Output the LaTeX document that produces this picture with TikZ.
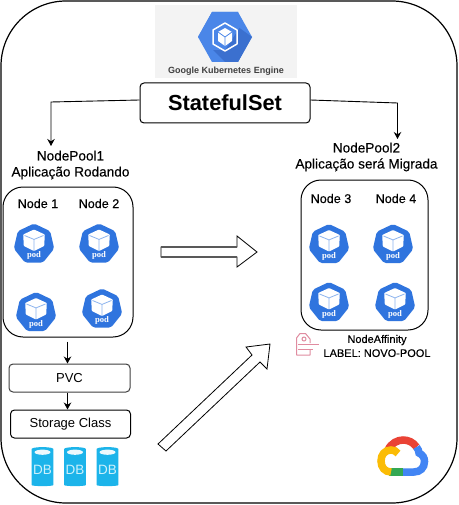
\documentclass[tikz,border=0pt]{standalone}
\usepackage{fontspec}
\setmainfont{Liberation Sans}
\newfontfamily\podfont{Liberation Serif}
\newfontfamily\medfont[FakeBold=0.25]{Liberation Sans}
\usetikzlibrary{arrows.meta,calc}
\definecolor{podblue}{HTML}{2F74DE}
\definecolor{podline}{HTML}{8DB4EE}
\definecolor{gkeblue}{HTML}{4A86E8}
\definecolor{gkedark}{HTML}{3B70CF}
\definecolor{gkebg}{HTML}{F3F3F3}
\definecolor{dbblue}{HTML}{1CB4EA}
\definecolor{dbtext}{HTML}{CDF1FC}
\definecolor{tagpink}{HTML}{E08CA0}
\definecolor{gred}{HTML}{EA4335}
\definecolor{gblue}{HTML}{4285F4}
\definecolor{ggreen}{HTML}{34A853}
\definecolor{gyellow}{HTML}{FBBC05}
\tikzset{
  x=1pt,y=-1pt,
  outer/.style={draw=black,line width=1.2pt,rounded corners=65pt},
  poolbox/.style={draw=black,line width=1pt,rounded corners=20pt,inner sep=0pt},
  stepbox/.style={draw=black,line width=1pt,rounded corners=4pt,fill=white,inner sep=0pt,text=black},
  pooltext/.style={font=\medfont\fontsize{13.6}{16}\selectfont,align=center,inner sep=0pt},
  nodetext/.style={font=\medfont\fontsize{12.6}{15}\selectfont,inner sep=0pt},
  flow/.style={draw=black,line width=.9pt,-{Stealth[length=7pt,width=7.5pt]}},
  bigarrow/.style={draw=black,line width=.8pt,fill=white,line join=miter},
  podtext/.style={font=\podfont\bfseries\fontsize{8.6}{9}\selectfont,text=white,inner sep=0pt},
  dbtext/.style={font=\fontsize{13.5}{13.5}\selectfont,text=dbtext,inner sep=0pt},
  tagline/.style={draw=tagpink,line width=1pt},
  cloudseg/.style={line width=7.5pt,line cap=butt},
}
\newcommand{\podicon}[3]{%
  \begin{scope}[shift={(#1,#2)}]
    \fill[podblue,rounded corners=2pt] (0,-20.5)--(16.2,-12.8)--(20.2,4.6)--(9,18.6)--(-9,18.6)--(-20.2,4.6)--(-16.2,-12.8)--cycle;
    \fill[white,rounded corners=.8pt] (0,-14.5)--(10.8,-9.5)--(10.2,2)--(0,7)--(-10.2,2)--(-10.8,-9.5)--cycle;
    \draw[podline,line width=.8pt] (-9.5,-8.5)--(0,-4.6)--(9.5,-8.5) (0,-4.6)--(0,6.3);
    \node[podtext] (#3) at (0,11.5) {pod};
  \end{scope}}
\newcommand{\dbicon}[3]{%
  \begin{scope}[shift={(#1,#2)}]
    \fill[dbblue,rounded corners=3pt] (-10.8,4)--(-10.8,34) .. controls (-10.8,38.5) and (10.8,38.5) .. (10.8,34)--(10.8,4)
       .. controls (10.8,-1.5) and (-10.8,-1.5) .. (-10.8,4)--cycle;
    \fill[white!92!dbblue] (0,4.2) ellipse (8pt and 2.6pt);
    \node[dbtext] (#3) at (0,21.5) {DB};
  \end{scope}}
\begin{document}
\begin{tikzpicture}
\useasboundingbox (0,0) rectangle (458,505);
\fill[white] (0,0) rectangle (458,505);
\draw[outer] (1,1) rectangle (457,503);

% GKE logo
\fill[gkebg] (155,5) rectangle (297,78);
\fill[gkeblue] (198,37)--(212,12)--(238,12)--(252,37)--(238,62)--(212,62)--cycle;
\fill[gkedark] (234,24)--(252,37)--(238,62)--(225,62)--(212,49)--cycle;
\fill[gkeblue] (198,37)--(212,12)--(238,12)--(240,27)--(225,50)--(212,50)--cycle;
\draw[white,line width=1.5pt,line join=round] (225,23)--(237,30)--(237,44)--(225,51)--(213,44)--(213,30)--cycle;
\fill[white] (225,28)--(232,32)--(232,41)--(225,46)--(218,41)--(218,32)--cycle;
\draw[gkeblue,line width=.8pt] (218,32)--(225,37)--(232,32) (225,37)--(225,46);
\node[font=\bfseries\fontsize{9}{10}\selectfont,text=black!75,inner sep=0pt] (gketxt) at (226,71.5) {Google Kubernetes Engine};

% StatefulSet
\node[stepbox,minimum width=170pt,minimum height=40pt,font=\bfseries\fontsize{21.8}{24}\selectfont] (sts) at (225,103) {StatefulSet};

% Pool labels
\node[pooltext] (np1) at (70.5,165) {NodePool1\\Aplicação Rodando};
\node[pooltext] (np2) at (366.5,157) {NodePool2\\Aplicação será Migrada};
\coordinate (c1) at (51,146);
\coordinate (c2) at (397.5,139);
\draw[flow] ($(sts.west)+(0,-3)$) -- (51,102) -- (c1);
\draw[flow] ($(sts.east)+(0,-3)$) -- (397.5,103) -- (c2);

% Pools
\node[poolbox,minimum width=130pt,minimum height=150pt] (pool1) at (68,262) {};
\node[poolbox,minimum width=127pt,minimum height=150pt] (pool2) at (364.5,255) {};
\node[nodetext] (n1) at (38,203.5) {Node 1};
\node[nodetext] (n2) at (99,203.5) {Node 2};
\node[nodetext] (n3) at (331,198.5) {Node 3};
\node[nodetext] (n4) at (396,198.5) {Node 4};

\podicon{34}{244}{p1}
\podicon{99}{244}{p2}
\podicon{36}{312.5}{p3}
\podicon{102}{309}{p4}
\podicon{329}{244.5}{p5}
\podicon{393}{244.5}{p6}
\podicon{329}{302.5}{p7}
\podicon{395}{302.5}{p8}

% Storage
\node[stepbox,draw=black!75,minimum width=121pt,minimum height=28pt,font=\fontsize{13}{14}\selectfont] (pvc) at (69.5,378) {\raisebox{-1pt}{PVC}};
\node[stepbox,minimum width=120pt,minimum height=28pt,font=\fontsize{13}{14}\selectfont] (sc) at (70.5,424) {\raisebox{-1.5pt}{Storage Class}};
\draw[flow,shorten <=4pt] (pool1.south -| 67.5,0) -- (pvc.north -| 67.5,0);
\draw[flow] (pvc.south -| 67.5,0) -- (sc.north -| 67.5,0);
\dbicon{42.5}{448}{db1}
\dbicon{75}{448}{db2}
\dbicon{107.5}{448}{db3}

% Big arrows
\draw[bigarrow] (161,247)--(237,247)--(237,236)--(257,252)--(237,267)--(237,257)--(161,257)--cycle;
\draw[black!65,line width=1.5pt] (161,247)--(237,247) (161,257)--(237,257);
\draw[bigarrow] (158,444)--(252,355)--(246,347)--(270,344)--(267,369)--(260,362)--(166,451)--cycle;

% Tag and affinity
\draw[tagline,line join=round] (310,343)--(310,339)--(305.5,333.5)--(300,333.5)--(296.5,338)--(296.5,355)--(310,355)--(310,349);
\draw[tagline] (304,339) circle (2pt);
\draw[tagline] (298,344.5)--(318.5,344.5) (298,349.5)--(313,349.5);
\node[font=\medfont\fontsize{11}{14}\selectfont,align=center,inner sep=0pt] (aff) at (377,346) {NodeAffinity\\LABEL: NOVO-POOL};

% Google Cloud logo
\draw[cloudseg,gred] (388,450) .. controls (391,443) and (398,440) .. (403,440) .. controls (408,440) and (413,442) .. (416.5,447);
\draw[cloudseg,gblue] (416.5,447) .. controls (418,449) and (419,451) .. (419,453) .. controls (423,455) and (424.5,458) .. (424.5,461.5) .. controls (424.5,468) and (420,472) .. (414,472) -- (403,472);
\draw[cloudseg,ggreen] (403,472)--(389,472);
\draw[cloudseg,gyellow] (391,472) .. controls (385,472) and (381,467.5) .. (381,461) .. controls (381,454.5) and (385,450) .. (391,450) .. controls (394,450) and (396,451) .. (398,453.5);
\end{tikzpicture}
\end{document}
